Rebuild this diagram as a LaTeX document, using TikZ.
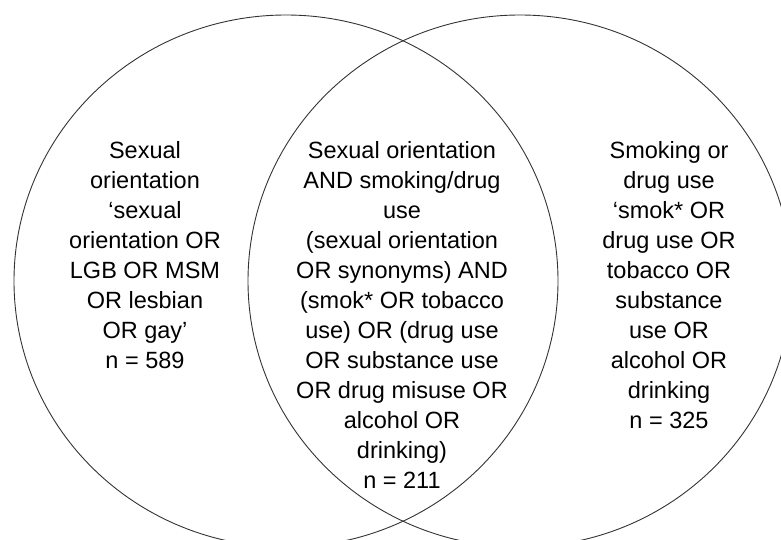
\documentclass[tikz,border=0pt]{standalone}
\usepackage{fontspec}
\setmainfont{Liberation Sans}
\usepackage{xcolor}

\tikzset{
	set/.style={draw=black!80,line width=0.9pt},
	txt/.style={align=center,anchor=north,inner sep=0pt,font=\fontsize{23.5}{30}\selectfont}
}

\begin{document}
\begin{tikzpicture}[x=1pt,y=1pt]
	\useasboundingbox (0,0) rectangle (781,539);
	\draw[set] (286,258) ellipse (272 and 266);
	\draw[set] (520,258) ellipse (272 and 266);
	\node[txt] at (145,398) (orient) {Sexual\\orientation\\‘sexual\\orientation OR\\LGB OR MSM\\OR lesbian\\OR gay’\\n = 589};
	\node[txt] at (402,398) (both) {Sexual orientation\\AND smoking/drug\\use\\(sexual orientation\\OR synonyms) AND\\(smok* OR tobacco\\use) OR (drug use\\OR substance use\\OR drug misuse OR\\alcohol OR\\drinking)\\n = 211};
	\node[txt] at (669,398) (smoke) {Smoking or\\drug use\\‘smok* OR\\drug use OR\\tobacco OR\\substance\\use OR\\alcohol OR\\drinking\\n = 325};
\end{tikzpicture}
\end{document}
